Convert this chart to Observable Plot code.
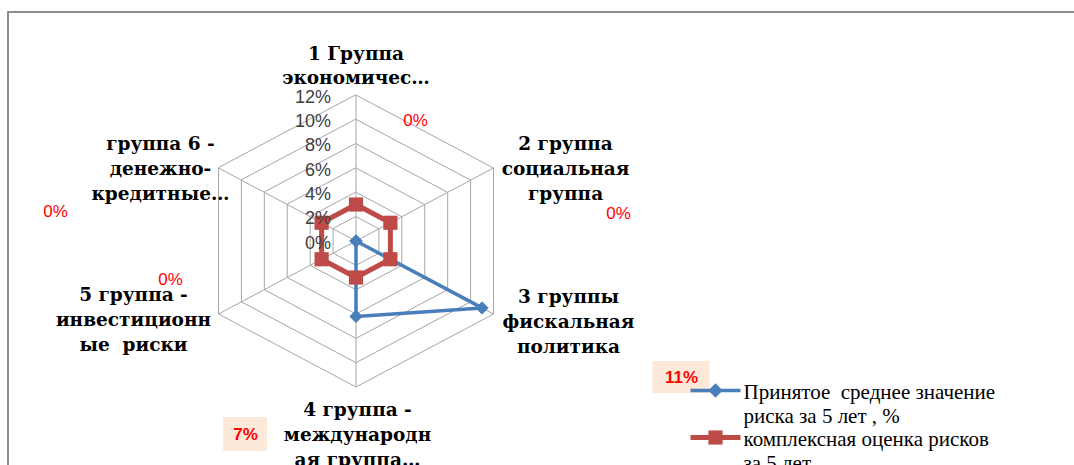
<!DOCTYPE html>
<html><head><meta charset="utf-8">
<script src="https://cdn.jsdelivr.net/npm/d3@7"></script>
<script src="https://cdn.jsdelivr.net/npm/@observablehq/plot@0.6"></script>
<style>
body{margin:0;background:#fff;}
#wrap{position:relative;width:1074px;height:465px;overflow:hidden;background:#fff;}
#wrap svg{position:absolute;left:0;top:0;}
#border{position:absolute;left:7px;top:11px;width:1100px;height:500px;border-left:2px solid #8c8c8c;border-top:2px solid #8c8c8c;pointer-events:none;z-index:2}
</style></head><body><div id="wrap"><div id="border"></div></div>
<script>
// ---- data ----
const categories = [
  "1 Группа\nэкономичес…",
  "2 группа\nсоциальная\nгруппа",
  "3 группы\nфискальная\nполитика",
  "4 группа -\nмеждународн\nая группа…",
  "5 группа -\nинвестиционн\nые  риски",
  "группа 6 -\nденежно-\nкредитные…"
];
const avgRisk = [0, 0, 11, 6.2, 0, 0];          // Принятое среднее значение риска за 5 лет, %
const complexRisk = [3, 3, 3, 3, 3, 3];         // комплексная оценка рисков за 5 лет
const tickValues = [0, 2, 4, 6, 8, 10, 12];
const dataLabelTexts = ["0%", "0%", "11%", "7%", "0%", "0%"];
const seriesNames = ["Принятое  среднее значение\nриска за 5 лет , %", "комплексная оценка рисков\nза 5 лет"];
const maxValue = 12;

// ---- layout ----
const W = 1074, H = 465, cx = 355.5, cy = 240.5, Rx = 158.8, Ry = 146;
const blue = "#4a7ebb", red = "#be4b48", grid = "#a6a6a6";
const serif = '"Liberation Serif", "Times New Roman", Tinos, "DejaVu Serif", serif';
const serifBold = '"DejaVu Serif", serif';
const sans = '"Liberation Sans", Arial, Arimo, sans-serif';
const ang = i => i * Math.PI / 3;
const ux = (i, v) => v / maxValue * Math.sin(ang(i));
const uy = (i, v) => v / maxValue * Math.cos(ang(i));
const px = p => (p - cx) / Rx;
const py = p => (cy - p) / Ry;

const catOffsets = [[0, -31], [72, -1], [75, 6], [1.5, 46], [-85, 4], [-58, -1]];
const labelPos = [[415, 120], [618, 213], [681, 377], [245, 434], [170, 279], [55, 211]];
const labelBg = [null, null, [57, 32], [44, 34], null, null];
const labelBold = [false, false, true, true, false, false];

const rings = tickValues.filter(t => t > 0).flatMap(t => categories.map((c, i) => ({t, i})));
const pts = vals => vals.map((v, i) => ({i, v}));
const dataLabels = dataLabelTexts.map((text, i) => ({i, text}));

const legendY = [390, 437];
const legend = seriesNames.map((name, k) => ({k, name}));

const chart = Plot.plot({
  width: W, height: H, margin: 0,
  x: {domain: [px(0), px(W)], range: [0, W], axis: null},
  y: {domain: [py(0), py(H)], range: [0, H], axis: null},
  style: {background: "transparent"},
  marks: [
    Plot.line(rings, {x: d => ux(d.i, d.t), y: d => uy(d.i, d.t), z: "t", curve: "linear-closed", stroke: grid, strokeWidth: 1}),
    Plot.link(categories, {x1: () => 0, y1: () => 0, x2: (d, i) => ux(i, maxValue), y2: (d, i) => uy(i, maxValue), stroke: grid, strokeWidth: 1}),
    Plot.rect(dataLabels.filter(d => labelBg[d.i]), {
      x1: d => px(labelPos[d.i][0] - labelBg[d.i][0] / 2), x2: d => px(labelPos[d.i][0] + labelBg[d.i][0] / 2),
      y1: d => py(labelPos[d.i][1] - labelBg[d.i][1] / 2), y2: d => py(labelPos[d.i][1] + labelBg[d.i][1] / 2),
      fill: "#fde9d9"
    }),
    Plot.line(pts(avgRisk), {x: d => ux(d.i, d.v), y: d => uy(d.i, d.v), curve: "linear-closed", stroke: blue, strokeWidth: 3.5, strokeLinejoin: "miter"}),
    Plot.dot(pts(avgRisk), {x: d => ux(d.i, d.v), y: d => uy(d.i, d.v), symbol: "diamond2", r: 5.5, fill: blue, stroke: blue, strokeWidth: 1}),
    Plot.line(pts(complexRisk), {x: d => ux(d.i, d.v), y: d => uy(d.i, d.v), curve: "linear-closed", stroke: red, strokeWidth: 5, strokeLinejoin: "miter"}),
    Plot.dot(pts(complexRisk), {x: d => ux(d.i, d.v), y: d => uy(d.i, d.v), symbol: "square", r: 8, fill: red, stroke: "none"}),
    Plot.text(tickValues, {x: () => 0, y: t => t / maxValue, text: t => t + "%", textAnchor: "end", dx: -25, dy: 2,
      fontFamily: sans, fontSize: 18, fill: "#404040", ariaLabel: "tick-labels"}),
    Plot.text(categories, {
      x: (d, i) => ux(i, maxValue) + catOffsets[i][0] / Rx,
      y: (d, i) => uy(i, maxValue) - catOffsets[i][1] / Ry,
      text: d => d, fontFamily: serifBold, fontWeight: "bold", fontSize: 18.5, lineHeight: 1.35,
      fill: "#000", ariaLabel: "category-labels"
    }),
    Plot.text(dataLabels.filter(d => !labelBold[d.i]), {
      x: d => px(labelPos[d.i][0]), y: d => py(labelPos[d.i][1]), text: "text",
      fontFamily: sans, fontSize: 17, fill: "#ff0000", ariaLabel: "data-labels"
    }),
    Plot.text(dataLabels.filter(d => labelBold[d.i]), {
      x: d => px(labelPos[d.i][0]), y: d => py(labelPos[d.i][1]), text: "text",
      fontFamily: sans, fontSize: 17, fontWeight: "bold", fill: "#ff0000", ariaLabel: "data-labels"
    }),
    Plot.link(legend, {x1: () => px(690), x2: () => px(740), y1: d => py(legendY[d.k]), y2: d => py(legendY[d.k]),
      stroke: d => d.k === 0 ? blue : red, strokeWidth: d => d.k === 0 ? 3.5 : 5}),
    Plot.dot(legend.filter(d => d.k === 0), {x: () => px(715), y: d => py(legendY[d.k]), symbol: "diamond2", r: 5.5, fill: blue, stroke: blue}),
    Plot.dot(legend.filter(d => d.k === 1), {x: () => px(715), y: d => py(legendY[d.k]), symbol: "square", r: 8, fill: red, stroke: "none"}),
    Plot.text(legend, {x: () => px(743), y: d => py(legendY[d.k] + 12.5), text: "name", textAnchor: "start",
      fontFamily: serif, fontSize: 21, lineHeight: 1.19, fill: "#000", ariaLabel: "legend-labels"})
  ]
});
document.getElementById("wrap").appendChild(chart);
const s = d3.select(chart);
s.selectAll('g[aria-label="category-labels"] text').style("letter-spacing", "0.3px").style("font-family", serifBold);
s.selectAll('g[aria-label="legend-labels"] text').style("letter-spacing", "0.8px").style("font-family", serif);
s.selectAll('g[aria-label="tick-labels"] text').style("letter-spacing", "1.5px");
s.selectAll('g[aria-label="data-labels"] text').style("letter-spacing", "1.5px");
</script>
</body></html>
